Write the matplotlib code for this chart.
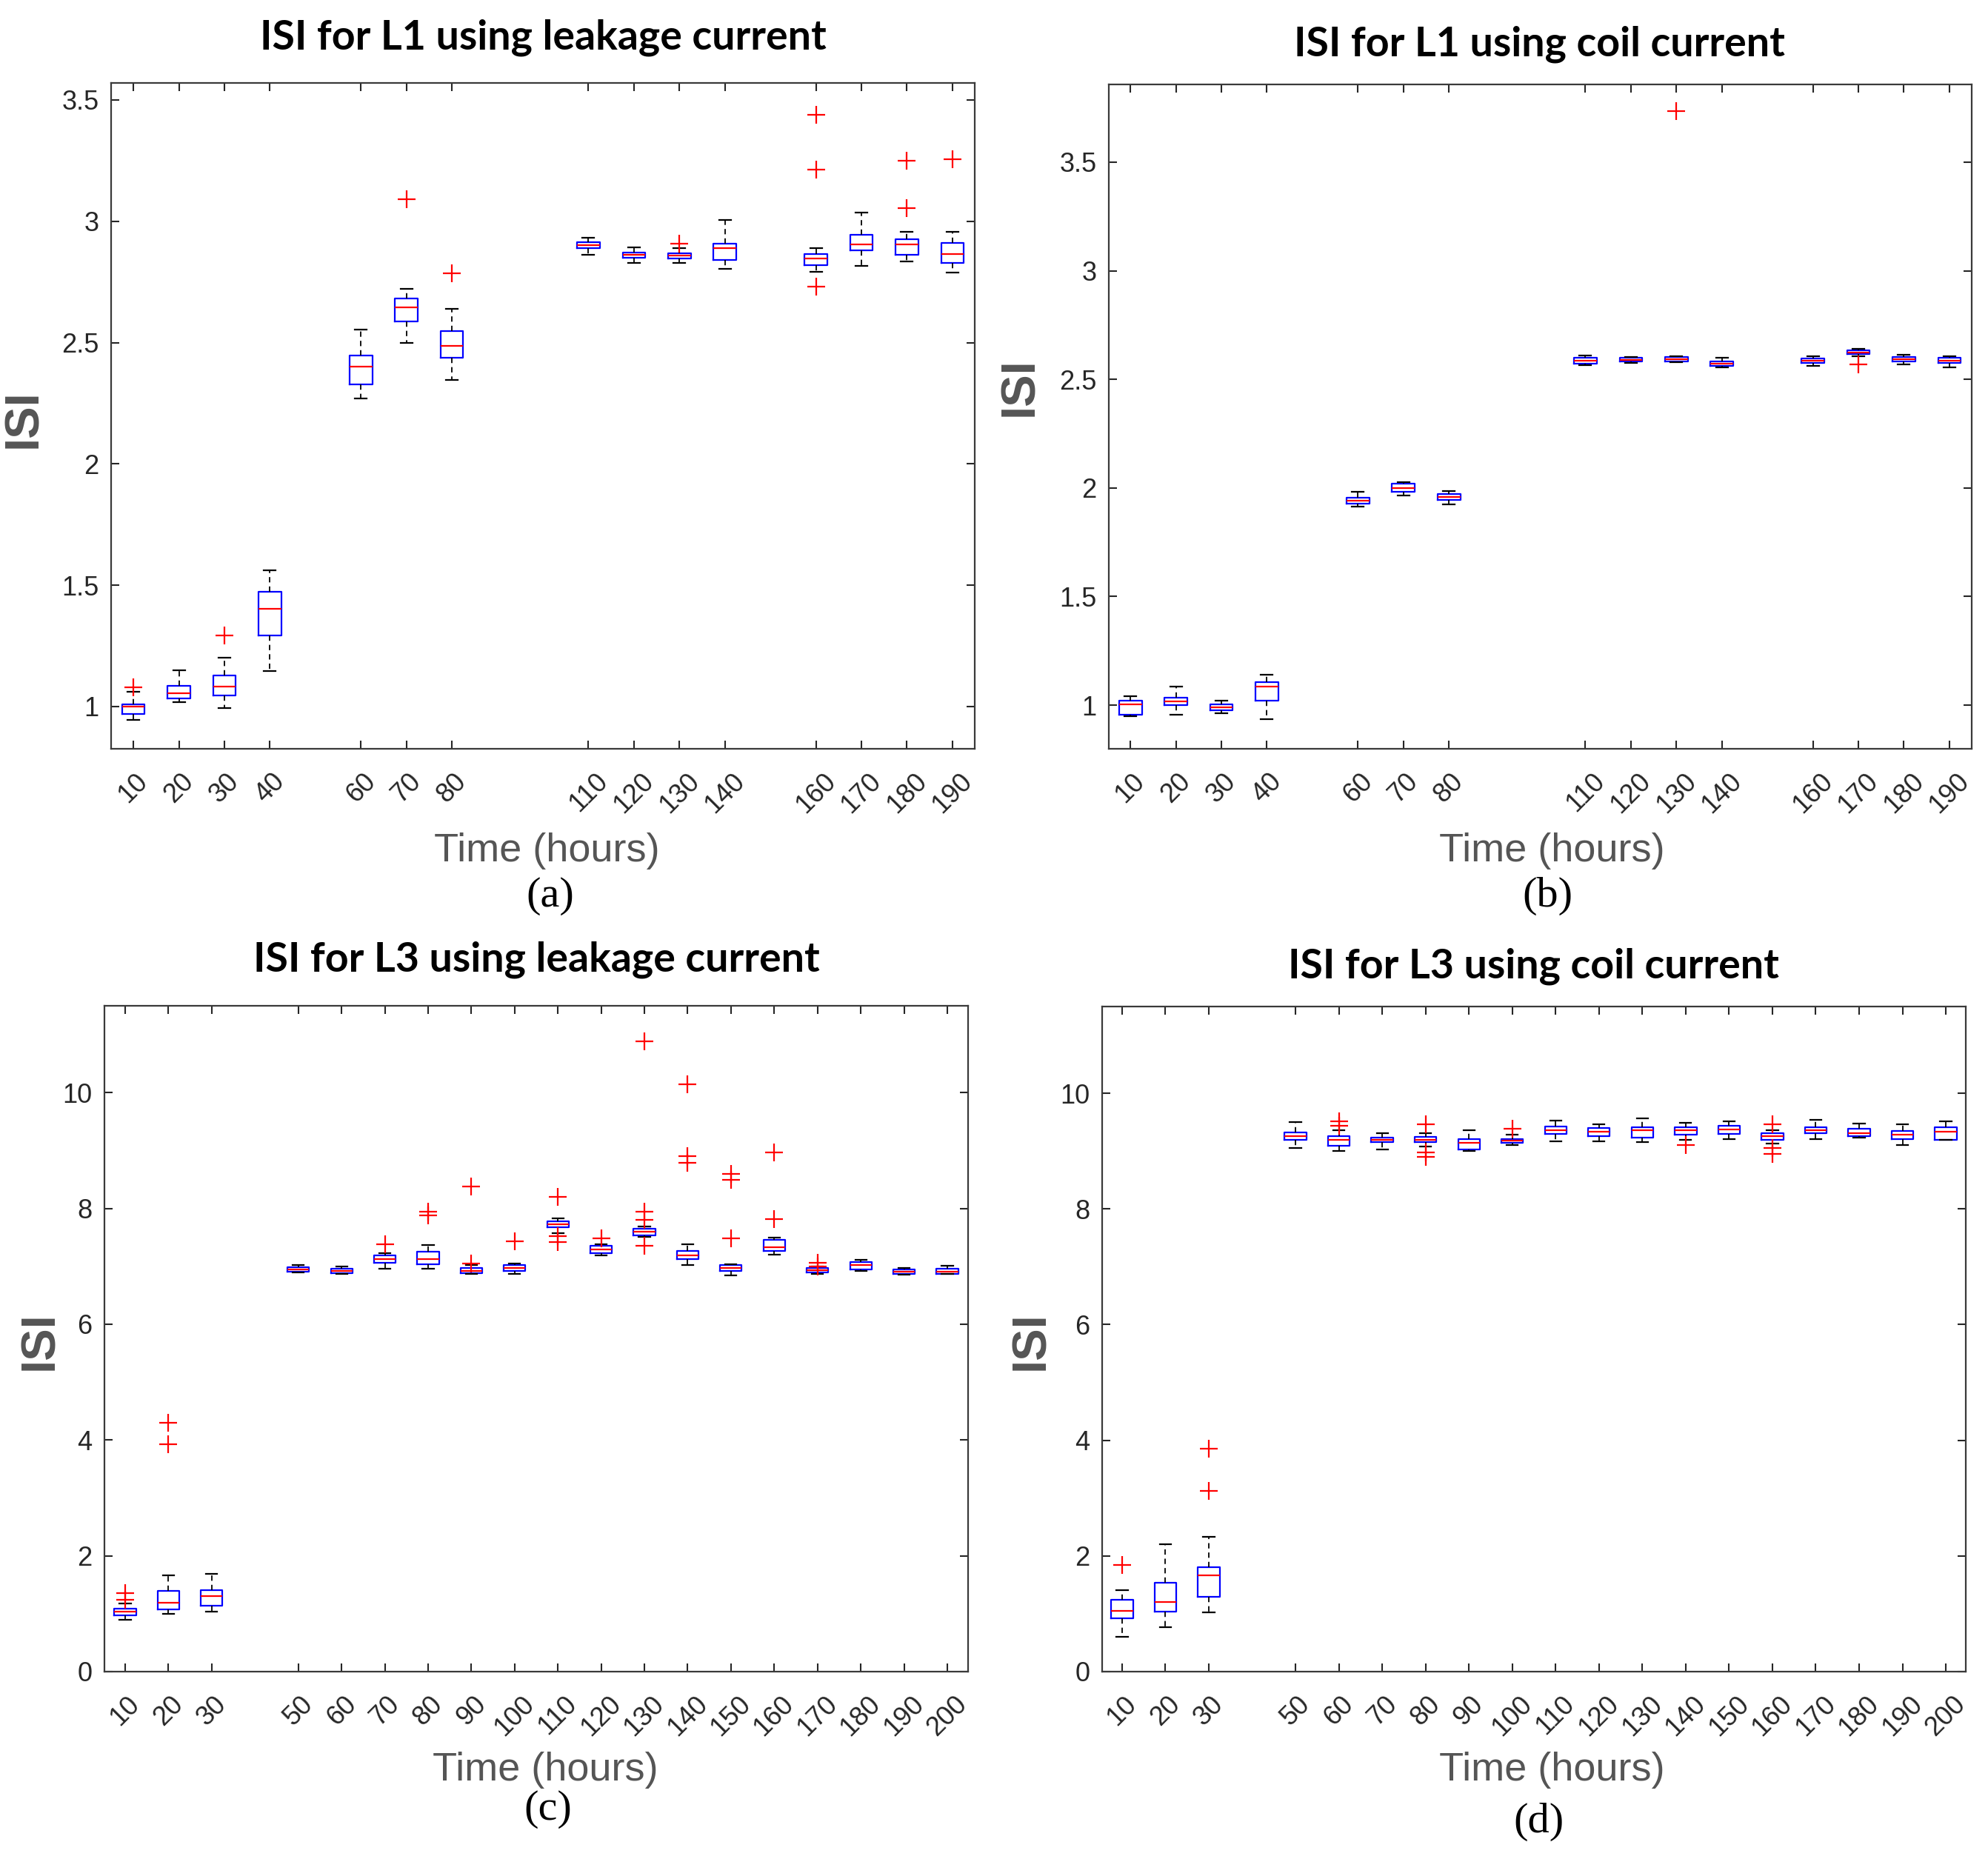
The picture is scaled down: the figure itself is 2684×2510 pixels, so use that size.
import matplotlib
matplotlib.use("Agg")
import matplotlib.pyplot as plt

plt.rcParams['font.family'] = ['Liberation Sans', 'DejaVu Sans']

# ---------------- data ----------------
pos_L1 = [10, 20, 30, 40, 60, 70, 80, 110, 120, 130, 140, 160, 170, 180, 190]
pos_L3 = [10, 20, 30, 50, 60, 70, 80, 90, 100, 110, 120, 130, 140, 150, 160, 170, 180, 190, 200]

# (a) ISI for L1 using leakage current
a_med = [1.00, 1.054, 1.083, 1.402, 2.40, 2.644, 2.485, 2.902, 2.861, 2.859, 2.89, 2.846, 2.905, 2.905, 2.866]
a_q1 = [0.97, 1.034, 1.046, 1.293, 2.327, 2.588, 2.437, 2.888, 2.851, 2.846, 2.841, 2.82, 2.88, 2.863, 2.827]
a_q3 = [1.01, 1.085, 1.129, 1.473, 2.446, 2.683, 2.546, 2.915, 2.871, 2.868, 2.907, 2.866, 2.944, 2.927, 2.912]
a_lo = [0.946, 1.017, 0.995, 1.146, 2.271, 2.50, 2.346, 2.863, 2.827, 2.827, 2.805, 2.793, 2.817, 2.834, 2.788]
a_hi = [1.06, 1.149, 1.20, 1.561, 2.554, 2.72, 2.639, 2.932, 2.893, 2.89, 3.005, 2.888, 3.037, 2.956, 2.956]
a_fl = [[1.078], [], [1.293], [], [], [3.09], [2.785], [], [], [2.907], [],
        [3.439, 3.212, 2.732], [], [3.249, 3.054], [3.256]]

# (b) ISI for L1 using coil current
b_med = [1.003, 1.016, 0.989, 1.085, 1.943, 2.00, 1.959, 2.587, 2.59, 2.593, 2.574, 2.585, 2.623, 2.593, 2.587]
b_q1 = [0.956, 1.00, 0.975, 1.022, 1.929, 1.984, 1.945, 2.574, 2.582, 2.582, 2.563, 2.577, 2.615, 2.582, 2.577]
b_q3 = [1.022, 1.036, 1.003, 1.107, 1.956, 2.019, 1.973, 2.598, 2.598, 2.604, 2.582, 2.596, 2.634, 2.604, 2.598]
b_lo = [0.948, 0.956, 0.962, 0.934, 1.913, 1.964, 1.926, 2.566, 2.577, 2.579, 2.555, 2.563, 2.607, 2.568, 2.555]
b_hi = [1.041, 1.085, 1.019, 1.139, 1.981, 2.027, 1.986, 2.609, 2.604, 2.607, 2.598, 2.607, 2.639, 2.612, 2.607]
b_fl = [[], [], [], [], [], [], [], [], [], [3.735], [], [], [2.568], [], []]

# (c) ISI for L3 using leakage current
c_med = [1.03, 1.185, 1.307, 6.946, 6.925, 7.13, 7.12, 6.925, 6.966, 7.72, 7.29, 7.60, 7.19, 6.966, 7.33, 6.93, 7.017, 6.905, 6.905]
c_q1 = [0.97, 1.07, 1.134, 6.905, 6.885, 7.058, 7.038, 6.885, 6.915, 7.67, 7.23, 7.54, 7.12, 6.915, 7.27, 6.895, 6.946, 6.874, 6.874]
c_q3 = [1.093, 1.39, 1.41, 6.99, 6.956, 7.19, 7.252, 6.966, 7.017, 7.78, 7.35, 7.65, 7.26, 7.017, 7.456, 6.966, 7.08, 6.946, 6.956]
c_lo = [0.90, 1.00, 1.03, 6.895, 6.874, 6.956, 6.956, 6.874, 6.874, 7.57, 7.19, 7.51, 7.017, 6.844, 7.20, 6.874, 6.915, 6.854, 6.864]
c_hi = [1.175, 1.665, 1.685, 7.017, 6.997, 7.232, 7.365, 7.017, 7.048, 7.824, 7.385, 7.69, 7.375, 7.03, 7.50, 6.997, 7.109, 6.976, 7.007]
c_fl = [[1.36, 1.24], [4.30, 3.93], [], [], [], [7.385], [7.95, 7.88], [8.376, 7.048], [7.426],
        [8.20, 7.518, 7.42], [7.487], [10.88, 7.95, 7.80, 7.35], [10.14, 8.90, 8.79],
        [8.59, 8.49, 7.487], [8.97, 7.82], [7.058, 7.0], [], [], []]

# (d) ISI for L3 using coil current
d_med = [1.053, 1.207, 1.667, 9.264, 9.192, 9.192, 9.20, 9.141, 9.18, 9.356, 9.335, 9.356, 9.356, 9.376, 9.264, 9.356, 9.315, 9.284, 9.335]
d_q1 = [0.92, 1.033, 1.288, 9.192, 9.09, 9.151, 9.151, 9.028, 9.141, 9.294, 9.264, 9.233, 9.284, 9.294, 9.192, 9.305, 9.254, 9.213, 9.192]
d_q3 = [1.247, 1.534, 1.80, 9.325, 9.254, 9.233, 9.243, 9.202, 9.213, 9.427, 9.397, 9.407, 9.407, 9.437, 9.305, 9.417, 9.387, 9.346, 9.407]
d_lo = [0.60, 0.767, 1.022, 9.05, 9.00, 9.03, 9.08, 9.008, 9.11, 9.172, 9.172, 9.151, 9.192, 9.213, 9.13, 9.213, 9.233, 9.11, 9.192]
d_hi = [1.41, 2.209, 2.33, 9.50, 9.356, 9.305, 9.315, 9.356, 9.284, 9.53, 9.458, 9.56, 9.49, 9.52, 9.366, 9.54, 9.478, 9.458, 9.52]
d_fl = [[1.84], [], [3.855, 3.119], [], [9.52, 9.44], [], [9.468, 8.978, 8.90], [], [9.387],
        [], [], [], [9.11], [], [9.468, 9.05, 8.947], [], [], [], []]

titles = ["ISI for L1 using leakage current", "ISI for L1 using coil current",
          "ISI for L3 using leakage current", "ISI for L3 using coil current"]
sublabels = ["(a)", "(b)", "(c)", "(d)"]
yticks_L1 = [1, 1.5, 2, 2.5, 3, 3.5]
ytick_labels_L1 = ["1", "1.5", "2", "2.5", "3", "3.5"]
yticks_L3 = [0, 2, 4, 6, 8, 10]
ytick_labels_L3 = ["0", "2", "4", "6", "8", "10"]
xlabel_text = "Time (hours)"
ylabel_text = "ISI"

# ---------------- layout ----------------
W, H = 2684, 2510
fig = plt.figure(figsize=(W / 100, H / 100), dpi=100)


def rect(l, t, r, b):
    return [l / W, 1 - b / H, (r - l) / W, (b - t) / H]


TICK_COLOR = '#262626'
LABEL_GRAY = '#555555'


def panel(rc, pos, q1, med, q3, lo, hi, fl, xlim, ylim, yt, ytl):
    ax = fig.add_axes(rc)
    stats = [dict(med=m, q1=a, q3=b, whislo=l, whishi=h, fliers=f)
             for m, a, b, l, h, f in zip(med, q1, q3, lo, hi, fl)]
    ax.bxp(stats, positions=pos, widths=5, capwidths=2.6, showfliers=True,
           boxprops=dict(color='#0000ff', lw=1.6),
           medianprops=dict(color='#ff0000', lw=1.6),
           whiskerprops=dict(color='black', ls=(0, (4, 3)), lw=1.3),
           capprops=dict(color='black', lw=1.6),
           flierprops=dict(marker='+', markeredgecolor='#ff0000', markersize=17,
                           markeredgewidth=1.6, linestyle='none'),
           manage_ticks=False)
    ax.set_xlim(*xlim)
    ax.set_ylim(*ylim)
    ax.set_xticks(pos)
    ax.set_xticklabels([str(p) for p in pos], rotation=45)
    ax.set_yticks(yt)
    ax.set_yticklabels(ytl)
    ax.tick_params(direction='in', top=True, right=True, length=8, width=1.5,
                   labelsize=26, labelcolor=TICK_COLOR, color=TICK_COLOR)
    ax.tick_params(axis='x', pad=19)
    ax.tick_params(axis='y', pad=12)
    for s in ax.spines.values():
        s.set_color('#3a3a3a')
        s.set_linewidth(1.6)
    return ax


panel(rect(150, 112, 1316, 1011), pos_L1, a_q1, a_med, a_q3, a_lo, a_hi, a_fl,
      (5.1, 194.9), (0.826, 3.570), yticks_L1, ytick_labels_L1)
panel(rect(1497, 114, 2662, 1011), pos_L1, b_q1, b_med, b_q3, b_lo, b_hi, b_fl,
      (5.25, 194.9), (0.799, 3.858), yticks_L1, ytick_labels_L1)
panel(rect(141, 1358, 1307, 2257), pos_L3, c_q1, c_med, c_q3, c_lo, c_hi, c_fl,
      (5.2, 204.8), (0, 11.5), yticks_L3, ytick_labels_L3)
panel(rect(1488, 1359, 2654, 2257), pos_L3, d_q1, d_med, d_q3, d_lo, d_hi, d_fl,
      (5.4, 204.6), (0, 11.5), yticks_L3, ytick_labels_L3)


def T(x, y, s, **kw):
    fig.text(x / W, 1 - y / H, s, ha='center', va='center', **kw)


title_pos = [(733, 51), (2078, 60), (724, 1296), (2070, 1305)]
xlab_pos = [(738, 1149), (2095, 1149), (736, 2390), (2095, 2390)]
ylab_pos = [(32, 565), (1377, 522), (54, 1810), (1392, 1810)]
sub_pos = [(743, 1210), (2089, 1210), (740, 2443), (2077, 2460)]

for i in range(4):
    T(*title_pos[i], titles[i], family=['Lato', 'DejaVu Sans'], fontweight='bold',
      fontsize=40, color='black')
    T(*xlab_pos[i], xlabel_text, fontsize=39, color=LABEL_GRAY)
    T(*ylab_pos[i], ylabel_text, fontsize=47, color=LABEL_GRAY, rotation=90,
      fontweight='bold')
    T(*sub_pos[i], sublabels[i], family=['Liberation Serif', 'DejaVu Serif'],
      fontsize=42, color='black')

fig.savefig("out.png", dpi=100, facecolor='white')
